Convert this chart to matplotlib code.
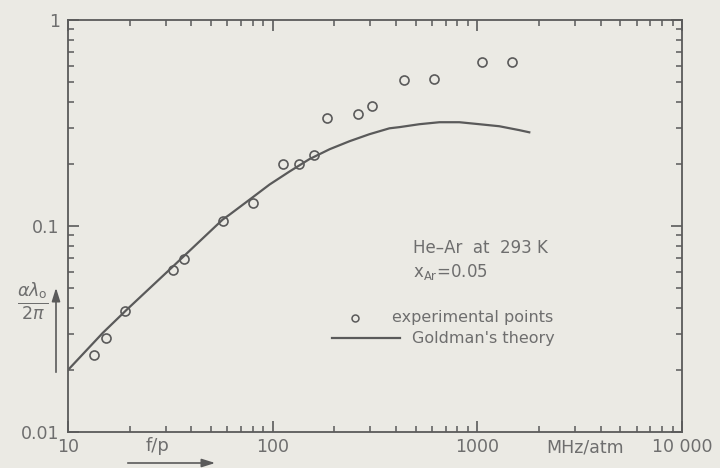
import matplotlib
matplotlib.use('Agg')
import matplotlib.pyplot as plt

# experimental points (f/p in MHz/atm, alpha*lambda0/2pi)
exp_fp = [13.4, 15.3, 19.0, 32.5, 36.8, 57.0, 79.9, 112, 134, 158.5,
          185, 260, 307, 440, 617, 1058, 1482]
exp_val = [0.0237, 0.0287, 0.0388, 0.0614, 0.0695, 0.106, 0.130, 0.201,
           0.201, 0.220, 0.334, 0.349, 0.382, 0.511, 0.516, 0.625, 0.625]

# Goldman's theory curve
th_fp = [10, 14.8, 19.4, 32.5, 57, 61.7, 77.3, 96.6, 121, 151, 190, 237.5,
         297, 372, 417, 521, 653, 817, 1023, 1280, 1603, 1794]
th_val = [0.020, 0.0303, 0.0393, 0.0635, 0.1075, 0.1137, 0.1345, 0.159, 0.184,
          0.211, 0.236, 0.258, 0.279, 0.298, 0.302, 0.312, 0.319, 0.319,
          0.312, 0.305, 0.292, 0.285]

xticks = [10, 100, 1000, 10000]
xtick_labels = ['10', '100', '1000', '10 000']
yticks = [0.01, 0.1, 1]
ytick_labels = ['0.01', '0.1', '1']

bg = '#ebeae4'
ink = '#5a5a5a'
txt = '#6e6e6e'

fig = plt.figure(figsize=(7.2, 4.68), dpi=100, facecolor=bg)
ax = fig.add_axes([68/720, 36/468, 614/720, 412/468])
ax.set_facecolor(bg)

ax.plot(th_fp, th_val, color=ink, lw=1.6)
ax.plot(exp_fp, exp_val, 'o', mfc='none', mec=ink, ms=6.5, mew=1.2)

ax.set_xscale('log')
ax.set_yscale('log')
ax.set_xlim(10, 10000)
ax.set_ylim(0.01, 1)

for s in ax.spines.values():
    s.set_color(ink)
    s.set_linewidth(1.3)

ax.set_xticks(xticks)
ax.set_xticklabels(xtick_labels)
ax.set_yticks(yticks)
ax.set_yticklabels(ytick_labels)
ax.tick_params(which='both', direction='in', top=True, right=True, color=ink,
               labelcolor=txt, labelsize=12.5)
ax.tick_params(which='major', length=8, width=1.2)
ax.tick_params(which='minor', length=4.5, width=1.1)
ax.tick_params(axis='x', pad=4)
ax.tick_params(axis='y', pad=6)

# annotations
ax.text(0.562, 0.435, 'He\u2013Ar  at  293 K', transform=ax.transAxes,
        fontsize=12, color=txt)
ax.text(0.562, 0.375, r'x$_{\mathrm{Ar}}$=0.05', transform=ax.transAxes,
        fontsize=12, color=txt)

# legend drawn by hand
ax.plot([0.468], [0.277], 'o', mfc='none', mec=ink, ms=5, mew=1.1,
        transform=ax.transAxes)
ax.text(0.528, 0.277, 'experimental points', transform=ax.transAxes,
        fontsize=11.5, color=txt, va='center')
ax.plot([0.43, 0.54], [0.228, 0.228], color=ink, lw=1.6,
        transform=ax.transAxes)
ax.text(0.561, 0.228, "Goldman's theory", transform=ax.transAxes,
        fontsize=11.5, color=txt, va='center')

# axis labels with arrows
fig.text(585/720, 1 - 448/468, 'MHz/atm', fontsize=12.5, color=txt,
         ha='center', va='center')
fig.text(158/720, 1 - 446/468, 'f/p', fontsize=13, color=txt,
         ha='center', va='center')
fig.patches.append(matplotlib.patches.FancyArrowPatch(
    (125/720, 1 - 463/468), (218/720, 1 - 463/468), transform=fig.transFigure,
    arrowstyle='-|>,head_length=8,head_width=2.5', color=ink, lw=1.2))
fig.text(33/720, 1 - 302/468, r'$\frac{\alpha\lambda_\mathrm{o}}{2\pi}$',
         fontsize=18, color=txt, ha='center', va='center')
fig.patches.append(matplotlib.patches.FancyArrowPatch(
    (56/720, 1 - 375/468), (56/720, 1 - 285/468), transform=fig.transFigure,
    arrowstyle='-|>,head_length=8,head_width=2.5', color=ink, lw=1.2))

fig.savefig('out.png', dpi=100, facecolor=bg)
